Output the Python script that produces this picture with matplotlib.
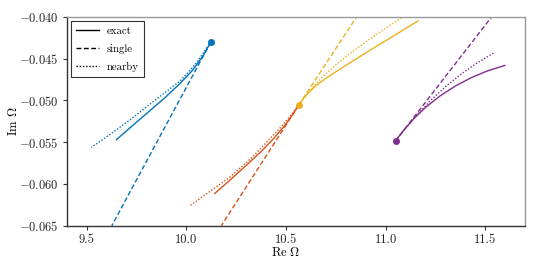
import matplotlib
matplotlib.use("Agg")
import matplotlib.pyplot as plt
import matplotlib.ticker as mticker
from matplotlib.lines import Line2D

plt.rcParams['font.family'] = 'serif'
plt.rcParams['font.serif'] = ['cmr10']
plt.rcParams['mathtext.fontset'] = 'cm'
plt.rcParams['axes.formatter.use_mathtext'] = True
plt.rcParams['font.size'] = 9

colors = {'blue': '#0072BD', 'orange': '#D95319', 'yellow': '#EDB120', 'purple': '#7E2F8E'}

# Blue branch
blue_dot = (10.122, -0.0430)
blue_exact_x = [10.122, 10.085, 10.03, 9.966, 9.89, 9.798, 9.72, 9.648]
blue_exact_y = [-0.0430, -0.0446, -0.0464, -0.0480, -0.0497, -0.0516, -0.0532, -0.0547]
blue_near_x = [10.122, 10.05, 10.01, 9.966, 9.84, 9.715, 9.62, 9.522]
blue_near_y = [-0.0430, -0.0455, -0.0466, -0.0477, -0.0500, -0.05235, -0.0540, -0.05562]
blue_single_x = [10.122, 9.625]
blue_single_y = [-0.0430, -0.0650]

# Orange branch
orange_exact_x = [10.564, 10.53, 10.49, 10.44, 10.38, 10.301, 10.22, 10.142]
orange_exact_y = [-0.05055, -0.0518, -0.0531, -0.0545, -0.0560, -0.05775, -0.0595, -0.06114]
orange_near_x = [10.564, 10.53, 10.468, 10.33, 10.217, 10.12, 10.018]
orange_near_y = [-0.05055, -0.0516, -0.05335, -0.0568, -0.0592, -0.06085, -0.0626]
orange_single_x = [10.564, 10.175]
orange_single_y = [-0.05055, -0.0650]

# Yellow branch
yellow_dot = (10.564, -0.05055)
yellow_exact_x = [10.564, 10.585, 10.61, 10.64, 10.68, 10.72, 10.78, 10.85, 10.937, 11.05, 11.163]
yellow_exact_y = [-0.05055, -0.04984, -0.04914, -0.04845, -0.04769, -0.04703,
                  -0.04610, -0.04505, -0.04376, -0.04211, -0.04047]
yellow_near_x = [10.564, 10.60, 10.65, 10.70, 10.76, 10.83, 10.90, 10.98, 11.08]
yellow_near_y = [-0.05055, -0.04940, -0.04800, -0.04680, -0.04554, -0.04421,
                 -0.04299, -0.04167, -0.04007]
yellow_single_x = [10.564, 10.854]
yellow_single_y = [-0.05055, -0.0400]

# Purple branch
purple_dot = (11.05, -0.05483)
purple_exact_x = [11.05, 11.09, 11.14, 11.20, 11.27, 11.35, 11.43, 11.51, 11.599]
purple_exact_y = [-0.05483, -0.05359, -0.05222, -0.05084, -0.04951, -0.04827,
                  -0.04727, -0.04647, -0.0458]
purple_near_x = [11.05, 11.10, 11.16, 11.23, 11.306, 11.38, 11.46, 11.541]
purple_near_y = [-0.05483, -0.05333, -0.05165, -0.0499, -0.04823, -0.04682, -0.0455, -0.04433]
purple_single_x = [11.05, 11.532]
purple_single_y = [-0.05483, -0.0400]

xticks = [9.5, 10.0, 10.5, 11.0, 11.5]
yticks = [-0.065, -0.060, -0.055, -0.050, -0.045, -0.040]

fig = plt.figure(figsize=(5.38, 2.69), dpi=100)
ax = fig.add_axes([67/538, 1 - 225.7/269, (525-67)/538, (225.7-17)/269])

lw = 1.0
DASH = (3.5, 1.8)
DOT = (1, 1.3)

def branch(ex, ey, nx, ny, sx, sy, c):
    ax.plot(ex, ey, '-', color=c, lw=lw, solid_joinstyle='round')
    ax.plot(sx, sy, '--', color=c, lw=lw, dashes=DASH)
    ax.plot(nx, ny, ':', color=c, lw=lw, dashes=DOT)

branch(blue_exact_x, blue_exact_y, blue_near_x, blue_near_y, blue_single_x, blue_single_y, colors['blue'])
branch(orange_exact_x, orange_exact_y, orange_near_x, orange_near_y, orange_single_x, orange_single_y, colors['orange'])
branch(yellow_exact_x, yellow_exact_y, yellow_near_x, yellow_near_y, yellow_single_x, yellow_single_y, colors['yellow'])
branch(purple_exact_x, purple_exact_y, purple_near_x, purple_near_y, purple_single_x, purple_single_y, colors['purple'])

ax.plot([blue_dot[0]], [blue_dot[1]], 'o', color=colors['blue'], ms=4)
ax.plot([yellow_dot[0]], [yellow_dot[1]], 'o', color=colors['yellow'], ms=4)
ax.plot([purple_dot[0]], [purple_dot[1]], 'o', color=colors['purple'], ms=4)

ax.set_xlim(9.4, 11.7)
ax.set_ylim(-0.065, -0.040)
ax.set_xticks(xticks)
ax.set_yticks(yticks)
ax.xaxis.set_major_formatter(mticker.FormatStrFormatter('%.1f'))
ax.yaxis.set_major_formatter(mticker.FuncFormatter(lambda v, p: '$-$%.3f' % abs(v)))
ax.tick_params(direction='out', length=3, width=0.8, colors='#333333', labelcolor='#222222', pad=3)
ax.spines['left'].set_color('#333333')
ax.spines['bottom'].set_color('#333333')
ax.spines['top'].set_color('#999999')
ax.spines['right'].set_color('#999999')
for s in ax.spines.values():
    s.set_linewidth(1.0)

ax.set_xlabel(r'Re $\Omega$')
ax.set_ylabel(r'Im $\Omega$')
ax.xaxis.set_label_coords(0.477, -0.097)
ax.yaxis.set_label_coords(-0.103, 0.5)

handles = [Line2D([], [], color='k', ls='-', lw=lw),
           Line2D([], [], color='k', ls='--', lw=lw, dashes=DASH),
           Line2D([], [], color='k', ls=':', lw=lw, dashes=DOT)]
leg = ax.legend(handles, ['exact', 'single', 'nearby'], loc='upper left', fancybox=False,
                edgecolor='#333333', framealpha=1, borderaxespad=0.35, handlelength=2.1,
                handletextpad=0.7, labelspacing=0.75, borderpad=0.5, fontsize=7.8)
leg.get_frame().set_linewidth(0.8)

fig.savefig('out.png', dpi=100)
